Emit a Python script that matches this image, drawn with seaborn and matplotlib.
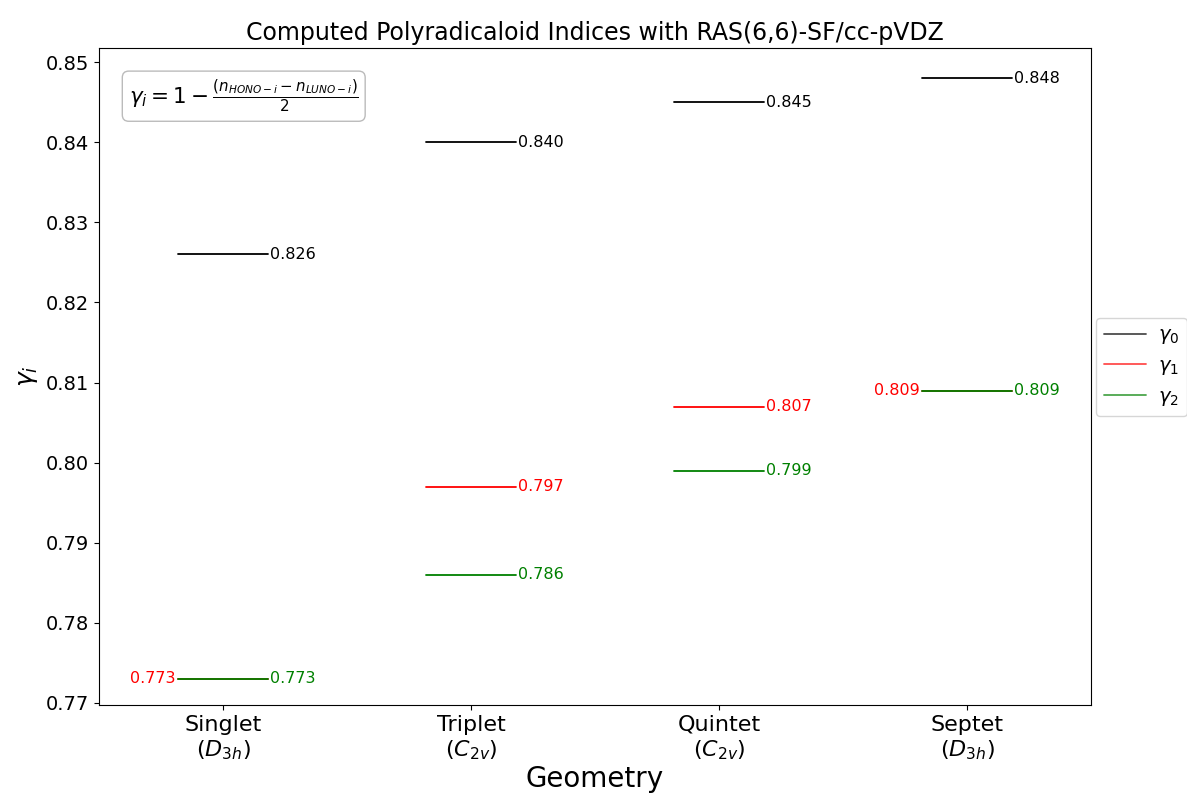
import pandas as pd
import matplotlib
matplotlib.use('Agg')
import matplotlib.pyplot as plt
import seaborn as sns

# geometries and polyradicaloid indices
geometrias = ['Singlet\n($D_{3h}$)', 'Triplet\n($C_{2v}$)', 'Quintet\n($C_{2v}$)', 'Septet\n($D_{3h}$)']
gamma0 = [0.826, 0.840, 0.845, 0.848]
gamma1 = [0.773, 0.797, 0.807, 0.809]
gamma2 = [0.773, 0.786, 0.799, 0.809]
series = ['$\\gamma_0$', '$\\gamma_1$', '$\\gamma_2$']
cores = ['black', 'red', 'green']

sns.set_style('ticks', {'axes.edgecolor': 'black', 'xtick.color': 'black', 'ytick.color': 'black',
                        'text.color': 'black', 'axes.labelcolor': 'black'})
plt.rcParams['font.family'] = ['DejaVu Sans']
plt.rcParams['mathtext.fontset'] = 'dejavusans'

w = 0.18
linhas = []
for nome, valores in zip(series, [gamma0, gamma1, gamma2]):
    for i, v in enumerate(valores):
        linhas.append({'x': i - w, 'y': v, 'serie': nome, 'geo': i})
        linhas.append({'x': i + w, 'y': v, 'serie': nome, 'geo': i})
df = pd.DataFrame(linhas)

fig = plt.figure(figsize=(11.87, 8.02), dpi=100)
ax = fig.add_axes([99/1187, 1 - 705/802, (1091 - 99)/1187, (705 - 48)/802])

sns.lineplot(data=df, x='x', y='y', hue='serie', units='geo', estimator=None,
             palette=dict(zip(series, cores)), linewidth=1.3, ax=ax, legend=False)

# value labels
for i in range(len(geometrias)):
    ax.text(i + w + 0.01, gamma0[i], f'{gamma0[i]:.3f}', color='black', va='center', ha='left', fontsize=11.5)
    ax.text(i + w + 0.01, gamma2[i], f'{gamma2[i]:.3f}', color='green', va='center', ha='left', fontsize=11.5)
    if abs(gamma1[i] - gamma2[i]) < 0.001:
        ax.text(i - w - 0.01, gamma1[i], f'{gamma1[i]:.3f}', color='red', va='center', ha='right', fontsize=11.5)
    else:
        ax.text(i + w + 0.01, gamma1[i], f'{gamma1[i]:.3f}', color='red', va='center', ha='left', fontsize=11.5)

ax.set_xlim(-0.5, 3.5)
ax.set_ylim(0.7697, 0.8518)
ax.set_xticks(range(len(geometrias)))
ax.set_xticklabels(geometrias, fontsize=16)
ax.tick_params(axis='y', labelsize=14)
ax.set_yticks([0.77, 0.78, 0.79, 0.80, 0.81, 0.82, 0.83, 0.84, 0.85])
ax.set_xlabel('Geometry', fontsize=20, labelpad=2)
ax.set_ylabel('$\\gamma_i$', fontsize=18)
ax.set_title('Computed Polyradicaloid Indices with RAS(6,6)-SF/cc-pVDZ', fontsize=17, pad=6)

ax.text(0.03, 0.955, '$\\gamma_i = 1 - \\frac{(n_{HONO-i} - n_{LUNO-i})}{2}$', transform=ax.transAxes,
        fontsize=15.5, va='top', ha='left',
        bbox=dict(boxstyle='round', facecolor='white', edgecolor='#aaaaaa', alpha=0.8))

handles = [plt.Line2D([], [], color=c, lw=1.3, alpha=0.7) for c in cores]
ax.legend(handles, series, loc='center left', bbox_to_anchor=(0.999, 0.515), fontsize=14,
          frameon=True, handlelength=2.2, handletextpad=0.6, borderaxespad=0.3)

fig.savefig('out.png', dpi=100)
